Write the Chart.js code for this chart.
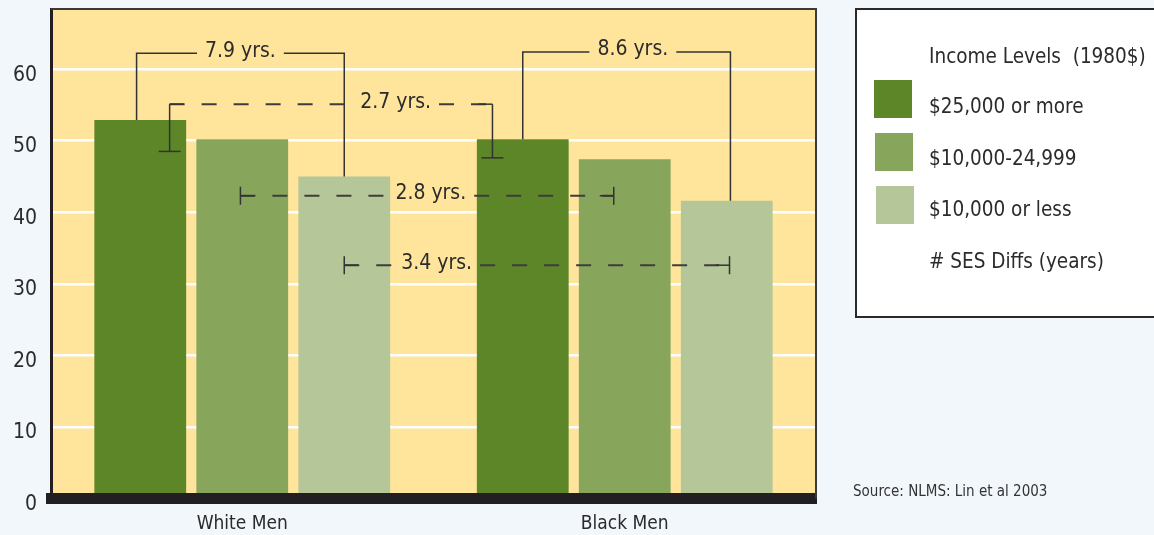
<!DOCTYPE html>
<html>
<head>
<meta charset="utf-8">
<script src="https://cdn.jsdelivr.net/npm/chart.js@4.4.1/dist/chart.umd.min.js"></script>
<style>
  html, body { margin: 0; padding: 0; background: #f2f7fc; }
  #wrap { width: 1154px; height: 535px; }
</style>
</head>
<body>
<div id="wrap"><canvas id="c" width="1154" height="535"></canvas></div>
<script>
// chart data
const categories = ['White Men', 'Black Men'];
const incomeLabels = ['$25,000 or more', '$10,000-24,999', '$10,000 or less'];
const highIncome = [52.9, 50.2];
const midIncome = [50.2, 47.4];
const lowIncome = [45.0, 41.6];
const yMax = 68.4;
const yStep = 10;
const sesDiffLabels = ['7.9 yrs.', '8.6 yrs.', '2.7 yrs.', '2.8 yrs.', '3.4 yrs.'];
const legendTitle = 'Income Levels  (1980$)';
const diffLegend = '# SES Diffs (years)';
const sourceNote = 'Source: NLMS: Lin et al 2003';

const FONT = "'Liberation Sans Narrow', 'DejaVu Sans Condensed', 'Arial Narrow', sans-serif";
const INK = '#2b2b2b';
const colors = ['#5c8627', '#88a55c', '#b5c699'];

// bracket layout: bars are [category, dataset], dx is fraction of bar width,
// levels are in y units, t = where the label sits along the line
const brackets = [
  { kind: 'solid', a: [0, 0], b: [0, 2], dxA: -0.04, dxB: 0, level: 62.2, t: 0.5 },
  { kind: 'solid', a: [1, 0], b: [1, 2], dxA: 0, dxB: 0.04, level: 62.4, t: 0.53 },
  { kind: 'drop', a: [0, 0], b: [1, 0], dxA: 0.32, dxB: -0.33, level: 55.1, dropA: 48.5, dropB: 47.6, t: 0.70 },
  { kind: 'cap', a: [0, 1], b: [1, 1], dxA: -0.02, dxB: -0.12, level: 42.3, t: 0.51 },
  { kind: 'cap', a: [0, 2], b: [1, 2], dxA: 0, dxB: 0.03, level: 32.6, t: 0.24 }
];

const frame = {
  id: 'frame',
  beforeDraw(chart) {
    const { ctx, chartArea: a } = chart;
    ctx.save();
    ctx.fillStyle = '#ffe49c';
    ctx.fillRect(a.left, a.top, a.right - a.left, a.bottom - a.top);
    ctx.restore();
  },
  afterDraw(chart) {
    const { ctx, chartArea: a } = chart;
    ctx.save();
    ctx.strokeStyle = '#3a3a3a';
    ctx.lineWidth = 2;
    ctx.beginPath();
    ctx.moveTo(a.left, a.top);
    ctx.lineTo(a.right, a.top);
    ctx.lineTo(a.right, a.bottom);
    ctx.stroke();
    ctx.restore();
  }
};

function segment(ctx, x1, y1, x2, y2) {
  ctx.beginPath();
  ctx.moveTo(x1, y1);
  ctx.lineTo(x2, y2);
  ctx.stroke();
}

const sesBrackets = {
  id: 'sesBrackets',
  afterDatasetsDraw(chart) {
    const { ctx } = chart;
    const y = chart.scales.y;
    ctx.save();
    ctx.font = '21px ' + FONT;
    ctx.textAlign = 'center';
    ctx.textBaseline = 'middle';
    brackets.forEach((br, i) => {
      const barA = chart.getDatasetMeta(br.a[1]).data[br.a[0]];
      const barB = chart.getDatasetMeta(br.b[1]).data[br.b[0]];
      const xA = barA.x + br.dxA * barA.width;
      const xB = barB.x + br.dxB * barB.width;
      const ly = y.getPixelForValue(br.level);
      const label = sesDiffLabels[i];
      const tx = xA + (xB - xA) * br.t;
      const half = ctx.measureText(label).width / 2 + 8;

      ctx.strokeStyle = '#333';
      if (br.kind === 'solid') {
        ctx.lineWidth = 1.5;
        ctx.setLineDash([]);
        ctx.beginPath();
        ctx.moveTo(xA, barA.y);
        ctx.lineTo(xA, ly);
        ctx.lineTo(tx - half, ly);
        ctx.stroke();
        ctx.beginPath();
        ctx.moveTo(tx + half, ly);
        ctx.lineTo(xB, ly);
        ctx.lineTo(xB, barB.y);
        ctx.stroke();
      } else {
        ctx.lineWidth = 2;
        ctx.strokeStyle = '#3d3d3d';
        ctx.setLineDash([15, 17]);
        segment(ctx, xA, ly, tx - half, ly);
        segment(ctx, tx + half, ly, xB, ly);
        ctx.setLineDash([]);
        ctx.lineWidth = 1.5;
        ctx.strokeStyle = '#333';
        if (br.kind === 'drop') {
          const yA = y.getPixelForValue(br.dropA);
          const yB = y.getPixelForValue(br.dropB);
          segment(ctx, xA, ly, xA + 14, ly);
          segment(ctx, xB - 14, ly, xB, ly);
          segment(ctx, xA, ly, xA, yA);
          segment(ctx, xA - 11, yA, xA + 11, yA);
          segment(ctx, xB, ly, xB, yB);
          segment(ctx, xB - 11, yB, xB + 11, yB);
        } else {
          segment(ctx, xA, ly - 9, xA, ly + 9);
          segment(ctx, xA, ly, xA + 14, ly);
          segment(ctx, xB, ly - 9, xB, ly + 9);
          segment(ctx, xB - 14, ly, xB, ly);
        }
      }
      ctx.fillStyle = INK;
      ctx.fillText(label, tx, ly - 2);
    });
    ctx.restore();
  }
};

const sideLegend = {
  id: 'sideLegend',
  afterDraw(chart) {
    const { ctx } = chart;
    ctx.save();
    ctx.fillStyle = '#ffffff';
    ctx.fillRect(855, 8, 310, 309);
    ctx.strokeStyle = '#2a2a2a';
    ctx.lineWidth = 2;
    ctx.strokeRect(856, 9, 310, 308);

    ctx.font = '20.5px ' + FONT;
    ctx.textAlign = 'left';
    ctx.textBaseline = 'middle';
    ctx.fillStyle = INK;
    ctx.fillText(legendTitle, 929, 58);
    chart.data.datasets.forEach((ds, i) => {
      const top = 80 + i * 53;
      ctx.fillStyle = ds.backgroundColor;
      ctx.fillRect(874 + i, top, 38, 38);
      ctx.fillStyle = INK;
      ctx.fillText(ds.label, 929, 108 + i * 51.5);
    });
    ctx.fillText(diffLegend, 929, 263);

    ctx.font = '15px ' + FONT;
    ctx.fillStyle = '#333';
    ctx.fillText(sourceNote, 853, 492);
    ctx.restore();
  }
};

const ctx = document.getElementById('c').getContext('2d');
new Chart(ctx, {
  type: 'bar',
  data: {
    labels: categories,
    datasets: [
      { label: incomeLabels[0], data: highIncome, backgroundColor: colors[0] },
      { label: incomeLabels[1], data: midIncome, backgroundColor: colors[1] },
      { label: incomeLabels[2], data: lowIncome, backgroundColor: colors[2] }
    ]
  },
  options: {
    responsive: false,
    animation: false,
    categoryPercentage: 0.8,
    barPercentage: 0.9,
    layout: { padding: { top: 9, right: 338, left: 0, bottom: 0 } },
    scales: {
      x: {
        grid: { display: false, drawTicks: false },
        border: { display: true, width: 11, color: '#231f20', z: 1 },
        ticks: { color: INK, padding: 14, font: { family: FONT, size: 19 } },
        afterFit(scale) {
          scale.height = 36.5;
          scale.paddingLeft = 0;
          scale.paddingRight = 0;
        }
      },
      y: {
        min: 0,
        max: yMax,
        grid: { color: '#ffffff', lineWidth: 2.5, drawTicks: false },
        border: { display: true, width: 3, color: '#231f20' },
        ticks: {
          stepSize: yStep,
          includeBounds: false,
          padding: 14,
          labelOffset: 6,
          color: INK,
          font: { family: FONT, size: 21 }
        },
        afterFit(scale) {
          scale.width = 51;
          scale.paddingTop = 0;
          scale.paddingBottom = 0;
        }
      }
    },
    plugins: {
      legend: { display: false },
      tooltip: { enabled: false }
    }
  },
  plugins: [frame, sesBrackets, sideLegend]
});
</script>
</body>
</html>
